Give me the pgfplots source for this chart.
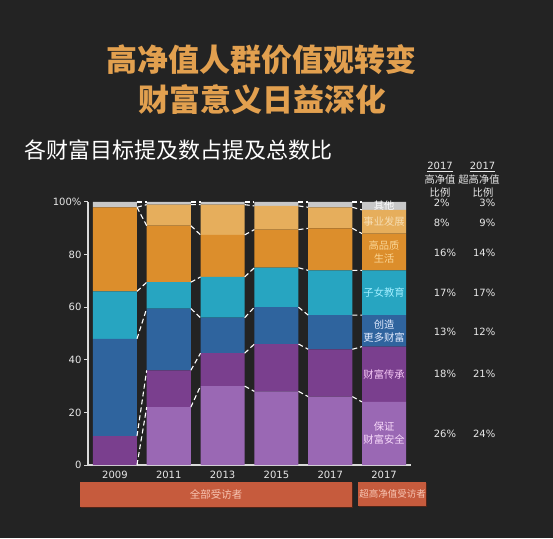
\documentclass[border=0pt]{standalone}
\usepackage{pgfplots}
\pgfplotsset{compat=1.18}
\usepackage{fontspec}
\setmainfont{DejaVu Sans}
\newfontfamily\cjk{Noto Sans CJK SC}
\definecolor{bg}{HTML}{232323}
\definecolor{titlec}{HTML}{E2A04F}
\definecolor{cS}{HTML}{9A68B4}
\definecolor{cI}{HTML}{7A3F8E}
\definecolor{cC}{HTML}{2F649E}
\definecolor{cE}{HTML}{27A5C1}
\definecolor{cL}{HTML}{DC8E2C}
\definecolor{cD}{HTML}{E6AE5C}
\definecolor{cO}{HTML}{C8C8C8}
\definecolor{tD}{HTML}{F6DDB2}
\definecolor{tL}{HTML}{FAD696}
\definecolor{tE}{HTML}{A0EEFF}
\definecolor{tC}{HTML}{E4ECFF}
\definecolor{tI}{HTML}{F5C8F5}
\definecolor{tS}{HTML}{F8DAFA}
\definecolor{boxc}{HTML}{C65B3D}
\definecolor{boxt}{HTML}{F7C4B2}
\definecolor{axc}{HTML}{DADADA}
\definecolor{txt}{HTML}{E8E8E8}
\begin{document}
\begin{tikzpicture}
\fill[bg] (0pt,0pt) rectangle (553pt,538pt);
% titles
\node[font=\cjk\bfseries\fontsize{31}{36}\selectfont, text=titlec] at (261pt,478pt) {高净值人群价值观转变};
\node[font=\cjk\bfseries\fontsize{31}{36}\selectfont, text=titlec] at (262pt,438pt) {财富意义日益深化};
\node[font=\cjk\fontsize{22}{26}\selectfont, text=white, anchor=west, inner sep=0pt] at (24pt,388pt) {各财富目标提及数占提及总数比};
% column headers
\node[font=\fontsize{10}{12}\selectfont, text=txt] at (440pt,371pt) {\underline{2017}};
\node[font=\fontsize{10}{12}\selectfont, text=txt] at (482.5pt,371pt) {\underline{2017}};
\node[font=\cjk\fontsize{10.3}{12}\selectfont, text=txt] at (440pt,358pt) {高净值};
\node[font=\cjk\fontsize{10.3}{12}\selectfont, text=txt] at (479pt,358pt) {超高净值};
\node[font=\cjk\fontsize{10.3}{12}\selectfont, text=txt] at (440pt,345pt) {比例};
\node[font=\cjk\fontsize{10.3}{12}\selectfont, text=txt] at (483pt,345pt) {比例};
% bottom boxes
\fill[black!60!boxc] (81pt,30pt) rectangle (353pt,55pt);
\fill[boxc] (80pt,31pt) rectangle (352pt,56pt);
\node[font=\cjk\fontsize{10.5}{12}\selectfont, text=boxt] at (216pt,43.5pt) {全部受访者};
\fill[black!60!boxc] (359pt,31pt) rectangle (427pt,55pt);
\fill[boxc] (358pt,32pt) rectangle (426pt,56pt);
\node[font=\cjk\fontsize{9.5}{11}\selectfont, text=boxt, inner sep=0pt] at (392.5pt,44pt) {超高净值受访者};
\begin{axis}[at={(88pt,73pt)}, anchor=south west, scale only axis,
  width=323pt, height=263pt, xmin=-0.5, xmax=5.5, ymin=0, ymax=100,
  ybar stacked, bar width=0.82,
  axis x line*=bottom, axis y line*=left,
  axis line style={axc, line width=1.3pt, -},
  xtick={0,1,2,3,4,5}, xticklabels={2009,2011,2013,2015,2017,2017},
  ytick={0,20,40,60,80,100}, yticklabels={0,20,40,60,80,100\%},
  x tick style={draw=none},
  y tick style={axc, line width=1pt}, tick align=outside, major tick length=4pt,
  ticklabel style={font=\fontsize{10}{12}\selectfont, text=txt},
  /pgf/number format/assume math mode=true,
  xticklabel style={yshift=1pt}, yticklabel style={xshift=1pt}]
\addplot[fill=cS, draw=none] coordinates {(0,0) (1,22) (2,30) (3,28) (4,26) (5,24)};
\addplot[fill=cI, draw=none] coordinates {(0,11) (1,14) (2,12.5) (3,18) (4,18) (5,21)};
\addplot[fill=cC, draw=none] coordinates {(0,37) (1,23.5) (2,13.5) (3,14) (4,13) (5,12)};
\addplot[fill=cE, draw=none] coordinates {(0,18) (1,10) (2,15.5) (3,15) (4,17) (5,17)};
\addplot[fill=cL, draw=none] coordinates {(0,32) (1,21.5) (2,16) (3,14.5) (4,16) (5,14)};
\addplot[fill=cD, draw=none] coordinates {(0,0) (1,8) (2,11.5) (3,9) (4,8) (5,9)};
\addplot[fill=cO, draw=none] coordinates {(0,2) (1,1) (2,1) (3,1.5) (4,2) (5,3)};
\end{axis}
\begin{axis}[at={(88pt,73pt)}, anchor=south west, scale only axis,
  width=323pt, height=263pt, xmin=-0.5, xmax=5.5, ymin=0, ymax=100,
  axis lines=none, clip=false, unbounded coords=jump,
  conn/.style={white, line width=1.1pt, dash pattern=on 5pt off 3pt, no markers}]
\addplot[conn] coordinates {(0.41,0) (0.59,22) (1,nan) (1.41,22) (1.59,30) (2,nan) (2.41,30) (2.59,28) (3,nan) (3.41,28) (3.59,26) (4,nan) (4.41,26) (4.59,24)};
\addplot[conn] coordinates {(0.41,11) (0.59,36) (1,nan) (1.41,36) (1.59,42.5) (2,nan) (2.41,42.5) (2.59,46) (3,nan) (3.41,46) (3.59,44) (4,nan) (4.41,44) (4.59,45)};
\addplot[conn] coordinates {(0.41,48) (0.59,59.5) (1,nan) (1.41,59.5) (1.59,56) (2,nan) (2.41,56) (2.59,60) (3,nan) (3.41,60) (3.59,57) (4,nan) (4.41,57) (4.59,57)};
\addplot[conn] coordinates {(0.41,66) (0.59,69.5) (1,nan) (1.41,69.5) (1.59,71.5) (2,nan) (2.41,71.5) (2.59,75) (3,nan) (3.41,75) (3.59,74) (4,nan) (4.41,74) (4.59,74)};
\addplot[conn] coordinates {(0.41,98) (0.59,91) (1,nan) (1.41,91) (1.59,87.5) (2,nan) (2.41,87.5) (2.59,89.5) (3,nan) (3.41,89.5) (3.59,90) (4,nan) (4.41,90) (4.59,88)};
\addplot[conn] coordinates {(0.41,98) (0.59,99) (1,nan) (1.41,99) (1.59,99) (2,nan) (2.41,99) (2.59,98.5) (3,nan) (3.41,98.5) (3.59,98) (4,nan) (4.41,98) (4.59,97)};
\addplot[conn] coordinates {(0.41,100) (0.59,100) (1,nan) (1.41,100) (1.59,100) (2,nan) (2.41,100) (2.59,100) (3,nan) (3.41,100) (3.59,100) (4,nan) (4.41,100) (4.59,100)};
% labels inside ultra bar
\tikzset{lab/.style={font=\cjk\fontsize{10.3}{13}\selectfont, align=center, inner sep=0pt}}
\node[lab, text=white] at (axis cs:5,98.8) {其他};
\node[lab, text=tD] at (axis cs:5,92.5) {事业发展};
\node[lab, text=tL] at (axis cs:5,81) {高品质\\生活};
\node[lab, text=tE] at (axis cs:5,65.5) {子女教育};
\node[lab, text=tC] at (axis cs:5,51) {创造\\更多财富};
\node[lab, text=tI] at (axis cs:5,34.5) {财富传承};
\node[lab, text=tS] at (axis cs:5,12) {保证\\财富安全};
% percentages
\tikzset{pc/.style={font=\fontsize{10}{12}\selectfont, text=txt, inner sep=0pt}}
\node[pc, anchor=west] at (axis cs:5.92,99.6) {2\%};
\node[pc, anchor=west] at (axis cs:5.92,92) {8\%};
\node[pc, anchor=west] at (axis cs:5.92,80.6) {16\%};
\node[pc, anchor=west] at (axis cs:5.92,65.4) {17\%};
\node[pc, anchor=west] at (axis cs:5.92,50.6) {13\%};
\node[pc, anchor=west] at (axis cs:5.92,34.6) {18\%};
\node[pc, anchor=west] at (axis cs:5.92,11.8) {26\%};
\node[pc, anchor=east] at (axis cs:7.07,99.6) {3\%};
\node[pc, anchor=east] at (axis cs:7.07,92) {9\%};
\node[pc, anchor=east] at (axis cs:7.07,80.6) {14\%};
\node[pc, anchor=east] at (axis cs:7.07,65.4) {17\%};
\node[pc, anchor=east] at (axis cs:7.07,50.6) {12\%};
\node[pc, anchor=east] at (axis cs:7.07,34.6) {21\%};
\node[pc, anchor=east] at (axis cs:7.07,11.8) {24\%};
\end{axis}
\end{tikzpicture}
\end{document}
